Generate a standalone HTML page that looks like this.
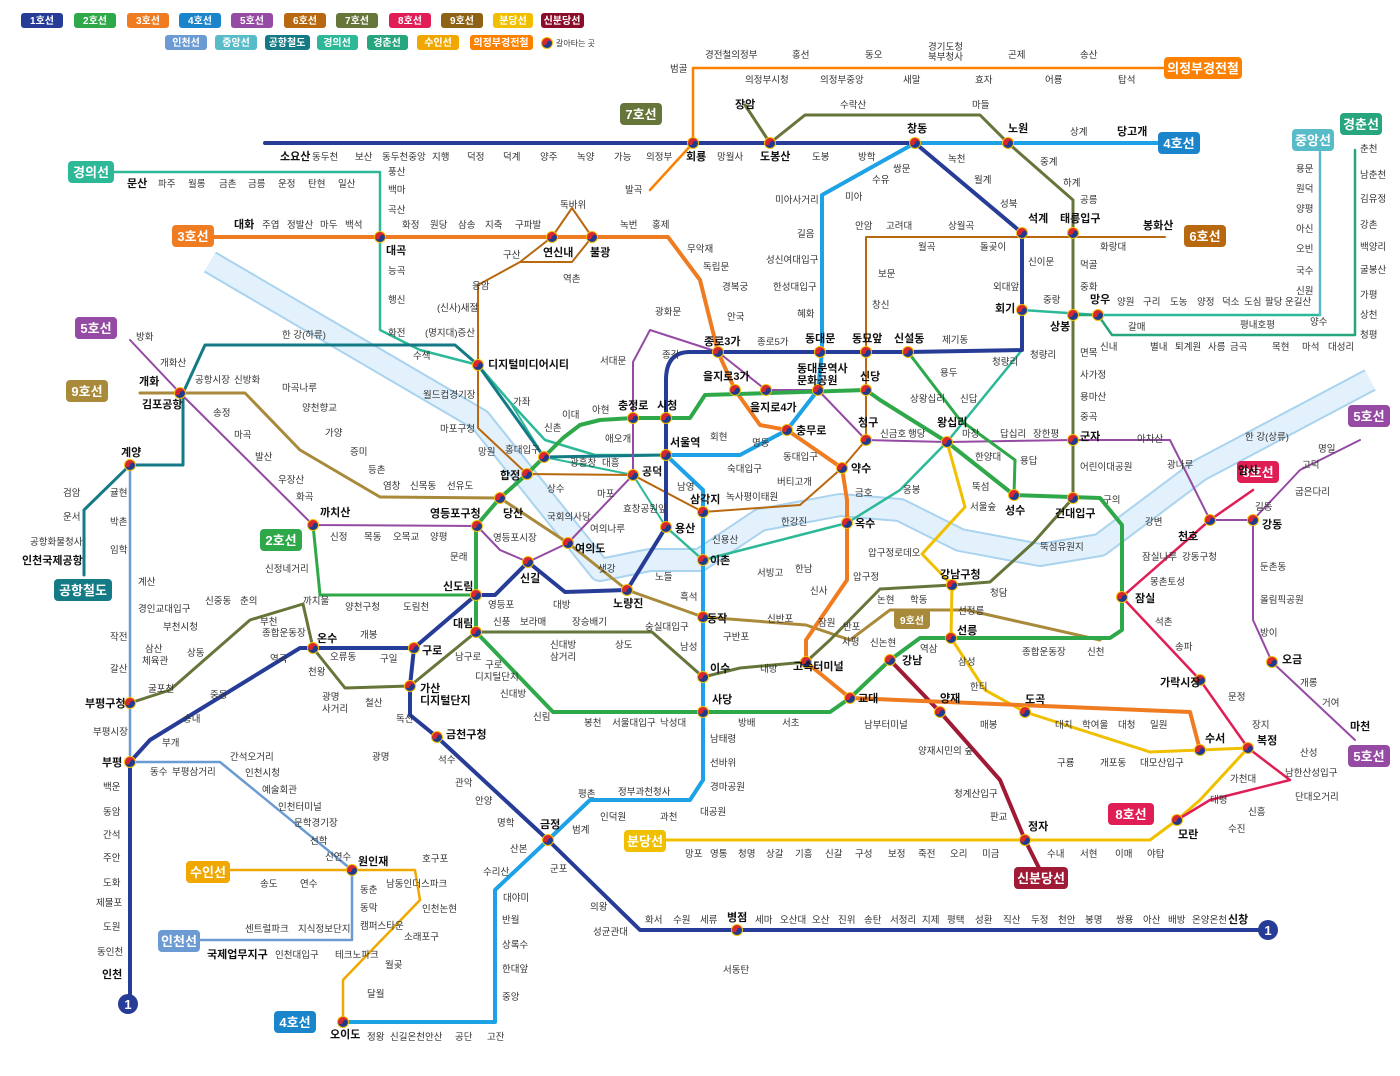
<!DOCTYPE html>
<html><head><meta charset="utf-8">
<style>
html,body{margin:0;padding:0;background:#fff;}
svg{display:block;font-family:"Liberation Sans","Noto Sans CJK KR",sans-serif;}
.s{font-size:9.5px;fill:#333;}
.b{font-size:11px;font-weight:bold;fill:#111;}
.lg{font-size:10px;font-weight:bold;fill:#fff;}
.bd{font-size:13px;font-weight:bold;fill:#fff;}
</style></head><body>
<svg width="1400" height="1076" viewBox="0 0 1400 1076" xmlns="http://www.w3.org/2000/svg">
<defs>
<g id="t"><circle r="6" fill="#f5c000"/><path d="M-5,0 A5,5 0 0 1 5,0 Z" fill="#d7282f"/><path d="M-5,0 A5,5 0 0 0 5,0 Z" fill="#1e3b8f"/><circle r="2.3" cx="-2.5" cy="0" fill="#d7282f"/><circle r="2.3" cx="2.5" cy="0" fill="#1e3b8f"/></g>
</defs>
<rect width="1400" height="1076" fill="#fff"/>

<!-- legend -->
<g>
<rect x="21" y="13" width="42" height="15" rx="3" fill="#263c96"/><text x="42" y="24" class="lg" text-anchor="middle">1호선</text>
<rect x="74" y="13" width="42" height="15" rx="3" fill="#2fa84a"/><text x="95" y="24" class="lg" text-anchor="middle">2호선</text>
<rect x="127" y="13" width="42" height="15" rx="3" fill="#f07c21"/><text x="148" y="24" class="lg" text-anchor="middle">3호선</text>
<rect x="179" y="13" width="42" height="15" rx="3" fill="#1b85cc"/><text x="200" y="24" class="lg" text-anchor="middle">4호선</text>
<rect x="231" y="13" width="42" height="15" rx="3" fill="#954aa3"/><text x="252" y="24" class="lg" text-anchor="middle">5호선</text>
<rect x="284" y="13" width="42" height="15" rx="3" fill="#b8680f"/><text x="305" y="24" class="lg" text-anchor="middle">6호선</text>
<rect x="336" y="13" width="42" height="15" rx="3" fill="#66753a"/><text x="357" y="24" class="lg" text-anchor="middle">7호선</text>
<rect x="389" y="13" width="42" height="15" rx="3" fill="#e01e55"/><text x="410" y="24" class="lg" text-anchor="middle">8호선</text>
<rect x="441" y="13" width="42" height="15" rx="3" fill="#8d6215"/><text x="462" y="24" class="lg" text-anchor="middle">9호선</text>
<rect x="493" y="13" width="40" height="15" rx="3" fill="#f0c000"/><text x="513" y="24" class="lg" text-anchor="middle">분당선</text>
<rect x="541" y="13" width="43" height="15" rx="3" fill="#8b0d2a"/><text x="562" y="24" class="lg" text-anchor="middle">신분당선</text>
<rect x="165" y="35" width="42" height="15" rx="3" fill="#6b9bd2"/><text x="186" y="46" class="lg" text-anchor="middle">인천선</text>
<rect x="215" y="35" width="42" height="15" rx="3" fill="#58bcc8"/><text x="236" y="46" class="lg" text-anchor="middle">중앙선</text>
<rect x="265" y="35" width="45" height="15" rx="3" fill="#137a86"/><text x="287" y="46" class="lg" text-anchor="middle">공항철도</text>
<rect x="317" y="35" width="41" height="15" rx="3" fill="#2db998"/><text x="337" y="46" class="lg" text-anchor="middle">경의선</text>
<rect x="367" y="35" width="41" height="15" rx="3" fill="#26a57e"/><text x="387" y="46" class="lg" text-anchor="middle">경춘선</text>
<rect x="417" y="35" width="42" height="15" rx="3" fill="#f0a800"/><text x="438" y="46" class="lg" text-anchor="middle">수인선</text>
<rect x="470" y="35" width="63" height="15" rx="3" fill="#fd8100"/><text x="501" y="46" class="lg" text-anchor="middle">의정부경전철</text>
<use href="#t" x="547" y="43"/><text x="556" y="46" style="font-size:8px;fill:#333">갈아타는 곳</text>
</g>

<!-- river -->
<g fill="none" stroke-linejoin="round">
<path d="M210,262 L480,420 L560,520 L600,570 L650,560 L700,560 L760,520 L840,505 L900,510 L960,540 L1040,555 L1100,545 L1200,470 L1370,380" stroke="#a9d3ee" stroke-width="24"/>
<path d="M210,262 L480,420 L560,520 L600,570 L650,560 L700,560 L760,520 L840,505 L900,510 L960,540 L1040,555 L1100,545 L1200,470 L1370,380" stroke="#e2f1fb" stroke-width="20"/>
</g>
<text x="282" y="338" class="s">한 강(하류)</text>
<text x="1245" y="440" class="s">한 강(상류)</text>

<g fill="none" stroke-linejoin="round" stroke-linecap="round">
<!-- 의정부경전철 -->
<path d="M693,68 L1165,68" stroke="#fd8100" stroke-width="2.5"/>
<path d="M693,68 L693,143 L650,190" stroke="#fd8100" stroke-width="2.5"/>
<!-- 경의선 -->
<path d="M90,172 L380,172 L380,330 L420,350 L478,365 L510,402 L545,440 L595,455 L666,455" stroke="#2db998" stroke-width="2.5"/>
<path d="M510,402 L544,457 L633,475 L666,527" stroke="#2db998" stroke-width="2"/>
<path d="M666,527 L703,560 L847,523 L900,490 L947,442 L1022,350 L1022,310 L1098,315 L1320,315" stroke="#2db998" stroke-width="2.5"/>
<path d="M1320,315 L1320,152" stroke="#58bcc8" stroke-width="2.5"/>
<!-- 경춘선 -->
<path d="M1073,315 L1098,315 L1112,335 L1355,335 L1355,150" stroke="#26a57e" stroke-width="2.5"/>
<!-- 공항철도 -->
<path d="M666,455 L544,457 L478,365 L455,345 L205,345 L183,393 L183,465 L130,465" stroke="#137a86" stroke-width="3"/>
<path d="M130,465 L84,510 L84,575" stroke="#137a86" stroke-width="3"/>
<!-- 인천선 -->
<path d="M130,465 L130,762 L220,762 L352,870 L352,940 L200,940" stroke="#6b9bd2" stroke-width="2.5"/>
<!-- 수인선 -->
<path d="M343,1022 L343,980 L420,900 L415,870 L230,870" stroke="#f0a800" stroke-width="2.5"/>
<!-- 9호선 -->
<path d="M140,393 L245,393 L300,450 L380,497 L500,498 L568,543 L627,590 L703,617 L806,625 L850,640 L890,610 L967,610 L1100,640" stroke="#a88a3a" stroke-width="3"/>
<!-- 분당선 -->
<path d="M947,442 L965,507 L922,554 L952,585 L951,638 L985,690 L1025,712 L1150,752 L1200,750 L1248,748 L1200,800 L1177,820 L1150,840 L650,840" stroke="#f0c000" stroke-width="3"/>
<!-- 신분당선 -->
<path d="M890,660 L940,712 L1000,780 L1025,840 L1040,870" stroke="#a01a35" stroke-width="4"/>
<!-- 7호선 -->
<path d="M745,105 L770,143 L805,115 L980,115 L1008,143 L1073,200 L1073,498 L1033,543 L990,582 L952,585 L880,589 L830,640 L806,662 L740,668 L703,677 L652,632 L476,632 L410,686 L345,688 L313,648 L303,604 L250,620 L170,690 L130,703" stroke="#66753a" stroke-width="3"/>
<!-- 6호선 -->
<path d="M478,285 L478,428 L527,474 L633,475 L703,512 L800,505 L842,468 L866,440 L866,237 L1165,237" stroke="#b8680f" stroke-width="2"/>
<path d="M478,285 L520,262 L552,237 L572,208 L592,237 L572,262 L520,262" stroke="#b8680f" stroke-width="2"/>
<!-- 5호선 -->
<path d="M130,340 L180,393 L313,525 L477,526 L500,550 L528,562 L568,543 L633,475 L633,362 L650,330 L718,352 L766,390 L818,390 L866,440 L947,442 L1073,440 L1170,440 L1210,520 L1253,520 L1300,470 L1360,440" stroke="#954aa3" stroke-width="2"/>
<path d="M1253,520 L1253,620 L1272,662 L1355,740" stroke="#954aa3" stroke-width="2"/>
<!-- 8호선 -->
<path d="M1253,490 L1210,520 L1122,597 L1200,680 L1248,748 L1290,780 L1210,800 L1177,820" stroke="#e01e55" stroke-width="2.5"/>
<!-- 4호선 -->
<path d="M1170,143 L915,143 L822,195 L822,352 L818,390 L787,430 L740,455 L666,455 L703,490 L703,780 L690,800 L590,800 L548,840 L495,890 L495,1022 L343,1022" stroke="#1ea2e6" stroke-width="4"/>
<!-- 3호선 -->
<path d="M190,237 L668,237 L700,280 L718,352 L735,390 L760,425 L787,430 L842,468 L847,500 L847,580 L806,640 L806,662 L850,698 L1190,712 L1200,750" stroke="#f07c21" stroke-width="4"/>
<!-- 2호선 -->
<path d="M666,418 L690,418 L705,395 L866,390 L880,400 L947,442 L1014,495 L1100,498 L1122,525 L1122,630 L1110,638 L920,638 L890,660 L850,698 L830,712 L553,712 L476,632 L476,526 L500,498 L527,474 L544,457 L563,438 L580,425 L600,420 L633,418 Z" stroke="#2fa84a" stroke-width="4"/>
<path d="M1014,495 L1015,460 L960,420 L908,352" stroke="#2fa84a" stroke-width="3"/>
<path d="M476,595 L320,595 L313,525" stroke="#2fa84a" stroke-width="3"/>
<!-- 1호선 -->
<path d="M265,143 L915,143 L1022,233 L1022,350 L908,352 L690,352 Q666,352 666,380 L666,527 L627,590 L565,592 L528,562 L495,595 L476,595 L414,648 L300,648 L150,740 L130,762 L130,1004" stroke="#263c96" stroke-width="4"/>
<path d="M414,648 L410,686 L410,715 L437,737 L548,840 L640,930 L1268,930" stroke="#263c96" stroke-width="4"/>
</g>

<!-- end circles -->
<g>
<circle cx="128" cy="1004" r="10" fill="#263c96"/><text x="128" y="1009" text-anchor="middle" class="bd">1</text>
<circle cx="1268" cy="930" r="10" fill="#263c96"/><text x="1268" y="935" text-anchor="middle" class="bd">1</text>
</g>

<!-- line badges -->
<g>
<rect x="620" y="103" width="42" height="22" rx="4" fill="#66753a"/><text x="641" y="119" class="bd" text-anchor="middle">7호선</text>
<rect x="1158" y="132" width="42" height="22" rx="4" fill="#1b85cc"/><text x="1179" y="148" class="bd" text-anchor="middle">4호선</text>
<rect x="1164" y="57" width="78" height="22" rx="4" fill="#fd8100"/><text x="1203" y="73" class="bd" text-anchor="middle">의정부경전철</text>
<rect x="68" y="161" width="46" height="22" rx="4" fill="#2db998"/><text x="91" y="177" class="bd" text-anchor="middle">경의선</text>
<rect x="1292" y="129" width="42" height="22" rx="4" fill="#58bcc8"/><text x="1313" y="145" class="bd" text-anchor="middle">중앙선</text>
<rect x="1340" y="113" width="42" height="22" rx="4" fill="#26a57e"/><text x="1361" y="129" class="bd" text-anchor="middle">경춘선</text>
<rect x="172" y="225" width="42" height="22" rx="4" fill="#f07c21"/><text x="193" y="241" class="bd" text-anchor="middle">3호선</text>
<rect x="1184" y="225" width="42" height="22" rx="4" fill="#b8680f"/><text x="1205" y="241" class="bd" text-anchor="middle">6호선</text>
<rect x="75" y="317" width="42" height="22" rx="4" fill="#954aa3"/><text x="96" y="333" class="bd" text-anchor="middle">5호선</text>
<rect x="66" y="380" width="42" height="22" rx="4" fill="#a88a3a"/><text x="87" y="396" class="bd" text-anchor="middle">9호선</text>
<rect x="1348" y="405" width="42" height="22" rx="4" fill="#954aa3"/><text x="1369" y="421" class="bd" text-anchor="middle">5호선</text>
<rect x="1237" y="461" width="42" height="22" rx="4" fill="#e01e55"/><text x="1258" y="477" class="bd" text-anchor="middle">8호선</text>
<rect x="260" y="529" width="42" height="22" rx="4" fill="#2fa84a"/><text x="281" y="545" class="bd" text-anchor="middle">2호선</text>
<rect x="54" y="579" width="58" height="22" rx="4" fill="#137a86"/><text x="83" y="595" class="bd" text-anchor="middle">공항철도</text>
<rect x="894" y="609" width="36" height="20" rx="4" fill="#a88a3a"/><text x="912" y="624" class="lg" text-anchor="middle">9호선</text>
<rect x="1348" y="745" width="42" height="22" rx="4" fill="#954aa3"/><text x="1369" y="761" class="bd" text-anchor="middle">5호선</text>
<rect x="1108" y="803" width="46" height="22" rx="4" fill="#e01e55"/><text x="1131" y="819" class="bd" text-anchor="middle">8호선</text>
<rect x="624" y="830" width="42" height="22" rx="4" fill="#f0c000"/><text x="645" y="846" class="bd" text-anchor="middle">분당선</text>
<rect x="186" y="861" width="44" height="22" rx="4" fill="#f0a800"/><text x="208" y="877" class="bd" text-anchor="middle">수인선</text>
<rect x="1014" y="867" width="54" height="22" rx="4" fill="#a01a35"/><text x="1041" y="883" class="bd" text-anchor="middle">신분당선</text>
<rect x="158" y="930" width="42" height="22" rx="4" fill="#6b9bd2"/><text x="179" y="946" class="bd" text-anchor="middle">인천선</text>
<rect x="274" y="1011" width="42" height="22" rx="4" fill="#1b85cc"/><text x="295" y="1027" class="bd" text-anchor="middle">4호선</text>
</g>

<!-- transfer markers -->
<g>
<use href="#t" x="693" y="143"/><use href="#t" x="770" y="143"/><use href="#t" x="915" y="143"/><use href="#t" x="1008" y="143"/>
<use href="#t" x="380" y="237"/><use href="#t" x="552" y="237"/><use href="#t" x="592" y="237"/><use href="#t" x="1022" y="233"/><use href="#t" x="1073" y="233"/>
<use href="#t" x="1022" y="310"/><use href="#t" x="1073" y="315"/><use href="#t" x="1098" y="315"/>
<use href="#t" x="478" y="365"/><use href="#t" x="718" y="352"/><use href="#t" x="820" y="352"/><use href="#t" x="866" y="352"/><use href="#t" x="908" y="352"/>
<use href="#t" x="180" y="393"/><use href="#t" x="633" y="418"/><use href="#t" x="666" y="418"/><use href="#t" x="735" y="390"/><use href="#t" x="766" y="390"/><use href="#t" x="818" y="390"/><use href="#t" x="866" y="390"/>
<use href="#t" x="787" y="430"/><use href="#t" x="866" y="440"/><use href="#t" x="947" y="442"/><use href="#t" x="1073" y="440"/>
<use href="#t" x="666" y="455"/><use href="#t" x="633" y="475"/><use href="#t" x="527" y="474"/><use href="#t" x="544" y="457"/><use href="#t" x="842" y="468"/><use href="#t" x="130" y="465"/>
<use href="#t" x="1014" y="495"/><use href="#t" x="1073" y="498"/><use href="#t" x="1253" y="520"/><use href="#t" x="1210" y="520"/>
<use href="#t" x="500" y="498"/><use href="#t" x="703" y="512"/><use href="#t" x="313" y="525"/><use href="#t" x="477" y="526"/><use href="#t" x="666" y="527"/><use href="#t" x="847" y="523"/>
<use href="#t" x="568" y="543"/><use href="#t" x="528" y="562"/><use href="#t" x="703" y="560"/><use href="#t" x="952" y="585"/>
<use href="#t" x="476" y="595"/><use href="#t" x="627" y="590"/><use href="#t" x="1122" y="597"/><use href="#t" x="476" y="632"/><use href="#t" x="703" y="617"/>
<use href="#t" x="313" y="648"/><use href="#t" x="414" y="648"/><use href="#t" x="951" y="638"/><use href="#t" x="890" y="660"/><use href="#t" x="806" y="662"/><use href="#t" x="703" y="677"/><use href="#t" x="1272" y="662"/>
<use href="#t" x="1200" y="680"/><use href="#t" x="410" y="686"/><use href="#t" x="130" y="703"/><use href="#t" x="850" y="698"/><use href="#t" x="703" y="712"/><use href="#t" x="940" y="712"/><use href="#t" x="1025" y="712"/>
<use href="#t" x="437" y="737"/><use href="#t" x="1200" y="750"/><use href="#t" x="1248" y="748"/><use href="#t" x="130" y="762"/>
<use href="#t" x="548" y="840"/><use href="#t" x="1177" y="820"/><use href="#t" x="1025" y="840"/><use href="#t" x="352" y="870"/><use href="#t" x="737" y="930"/><use href="#t" x="343" y="1022"/>
</g>

<!-- station labels -->
<g class="s">
<text x="670" y="72">범골</text><text x="705" y="58">경전철의정부</text><text x="745" y="83">의정부시청</text><text x="792" y="58">홍선</text><text x="820" y="83">의정부중앙</text><text x="865" y="58">동오</text><text x="928" y="50">경기도청</text><text x="928" y="60">북부청사</text><text x="903" y="83">새말</text><text x="975" y="83">효자</text><text x="1008" y="58">곤제</text><text x="1045" y="83">어룡</text><text x="1080" y="58">송산</text><text x="1118" y="83">탑석</text>
<text x="312" y="160">동두천</text><text x="355" y="160">보산</text><text x="382" y="160">동두천중앙</text><text x="432" y="160">지행</text><text x="467" y="160">덕정</text><text x="503" y="160">덕계</text><text x="540" y="160">양주</text><text x="577" y="160">녹양</text><text x="614" y="160">가능</text><text x="646" y="160">의정부</text><text x="717" y="160">망월사</text><text x="812" y="160">도봉</text><text x="858" y="160">방학</text><text x="625" y="193">발곡</text>
<text x="840" y="108">수락산</text><text x="972" y="108">마들</text><text x="1070" y="135">상계</text><text x="893" y="172">쌍문</text><text x="872" y="183">수유</text><text x="845" y="200">미아</text><text x="775" y="203">미아사거리</text><text x="797" y="237">길음</text><text x="766" y="263">성신여대입구</text><text x="773" y="290">한성대입구</text><text x="797" y="317">혜화</text>
<text x="948" y="162">녹천</text><text x="974" y="183">월계</text><text x="1000" y="207">성북</text><text x="1040" y="165">중계</text><text x="1063" y="186">하계</text><text x="1080" y="203">공릉</text><text x="1080" y="268">먹골</text><text x="1080" y="290">중화</text>
<text x="158" y="187">파주</text><text x="188" y="187">월롱</text><text x="219" y="187">금촌</text><text x="248" y="187">금릉</text><text x="278" y="187">운정</text><text x="308" y="187">탄현</text><text x="338" y="187">일산</text><text x="388" y="175">풍산</text><text x="388" y="193">백마</text><text x="388" y="213">곡산</text><text x="388" y="274">능곡</text><text x="388" y="303">행신</text><text x="388" y="336">화전</text><text x="413" y="359">수색</text>
<text x="262" y="228">주엽</text><text x="287" y="228">정발산</text><text x="320" y="228">마두</text><text x="345" y="228">백석</text><text x="402" y="228">화정</text><text x="430" y="228">원당</text><text x="458" y="228">삼송</text><text x="485" y="228">지축</text><text x="515" y="228">구파발</text><text x="560" y="208">독바위</text><text x="620" y="228">녹번</text><text x="652" y="228">홍제</text><text x="687" y="252">무악재</text><text x="703" y="270">독립문</text><text x="722" y="290">경복궁</text><text x="727" y="320">안국</text><text x="757" y="345">종로5가</text>
<text x="503" y="258">구산</text><text x="472" y="289">응암</text><text x="563" y="282">역촌</text><text x="437" y="311">(신사)새절</text><text x="425" y="336">(명지대)증산</text>
<text x="878" y="277">보문</text><text x="872" y="308">창신</text><text x="855" y="229">안암</text><text x="886" y="229">고려대</text><text x="948" y="229">상월곡</text><text x="918" y="250">월곡</text><text x="980" y="250">돌곶이</text><text x="1028" y="265">신이문</text><text x="993" y="290">외대앞</text><text x="1043" y="303">중랑</text><text x="1100" y="250">화랑대</text>
<text x="1117" y="305">양원</text><text x="1143" y="305">구리</text><text x="1170" y="305">도농</text><text x="1197" y="305">양정</text><text x="1222" y="305">덕소</text><text x="1244" y="305">도심</text><text x="1265" y="305">팔당</text><text x="1285" y="305">운길산</text>
<text x="1296" y="172">용문</text><text x="1296" y="192">원덕</text><text x="1296" y="212">양평</text><text x="1296" y="232">아신</text><text x="1296" y="252">오빈</text><text x="1296" y="274">국수</text><text x="1296" y="294">신원</text><text x="1310" y="325">양수</text>
<text x="1360" y="152">춘천</text><text x="1360" y="178">남춘천</text><text x="1360" y="202">김유정</text><text x="1360" y="228">강촌</text><text x="1360" y="250">백양리</text><text x="1360" y="273">굴봉산</text><text x="1360" y="298">가평</text><text x="1360" y="318">상천</text><text x="1360" y="338">청평</text>
<text x="1128" y="330">갈매</text><text x="1100" y="350">신내</text><text x="1150" y="350">별내</text><text x="1175" y="350">퇴계원</text><text x="1208" y="350">사릉</text><text x="1230" y="350">금곡</text><text x="1240" y="328">평내호평</text><text x="1272" y="350">목현</text><text x="1302" y="350">마석</text><text x="1328" y="350">대성리</text>
<text x="1080" y="356">면목</text><text x="1080" y="378">사가정</text><text x="1080" y="400">용마산</text><text x="1080" y="420">중곡</text><text x="1080" y="470">어린이대공원</text><text x="1137" y="442">아차산</text><text x="1167" y="468">광나루</text>
<text x="942" y="343">제기동</text><text x="992" y="365">청량리</text><text x="1030" y="358">청량리</text><text x="940" y="376">용두</text><text x="910" y="402">상왕십리</text><text x="960" y="402">신답</text><text x="880" y="437">신금호</text><text x="908" y="437">행당</text><text x="962" y="437">마장</text><text x="1000" y="437">답십리</text><text x="1033" y="437">장한평</text><text x="975" y="460">한양대</text><text x="972" y="490">뚝섬</text><text x="1020" y="464">용답</text><text x="903" y="493">응봉</text><text x="970" y="510">서울숲</text><text x="1040" y="550">뚝섬유원지</text>
<text x="136" y="340">방화</text><text x="160" y="366">개화산</text><text x="195" y="383">공항시장</text><text x="234" y="383">신방화</text><text x="282" y="391">마곡나루</text><text x="302" y="411">양천향교</text><text x="325" y="436">가양</text><text x="350" y="455">증미</text><text x="368" y="473">등촌</text><text x="383" y="489">염창</text><text x="410" y="489">신목동</text><text x="447" y="489">선유도</text>
<text x="213" y="416">송정</text><text x="234" y="438">마곡</text><text x="255" y="460">발산</text><text x="278" y="483">우장산</text><text x="296" y="500">화곡</text><text x="330" y="540">신정</text><text x="364" y="540">목동</text><text x="393" y="540">오목교</text><text x="430" y="540">양평</text>
<text x="423" y="398">월드컵경기장</text><text x="440" y="432">마포구청</text><text x="478" y="455">망원</text><text x="513" y="405">가좌</text><text x="544" y="431">신촌</text><text x="562" y="418">이대</text><text x="592" y="413">아현</text><text x="600" y="364">서대문</text><text x="655" y="315">광화문</text><text x="662" y="358">종각</text>
<text x="570" y="466">광흥창</text><text x="602" y="466">대흥</text><text x="547" y="492">상수</text><text x="597" y="497">마포</text><text x="590" y="532">여의나루</text><text x="547" y="520">국회의사당</text><text x="493" y="541">영등포시장</text><text x="598" y="572">샛강</text><text x="488" y="608">영등포</text><text x="450" y="560">문래</text><text x="553" y="608">대방</text><text x="505" y="453">홍대입구</text><text x="605" y="442">애오개</text>
<text x="623" y="512">효창공원앞</text><text x="677" y="490">남영</text><text x="727" y="472">숙대입구</text><text x="726" y="500">녹사평</text><text x="752" y="500">이태원</text><text x="781" y="525">한강진</text><text x="777" y="485">버티고개</text><text x="783" y="460">동대입구</text><text x="752" y="446">명동</text><text x="710" y="440">회현</text><text x="855" y="496">금호</text><text x="712" y="543">신용산</text><text x="795" y="572">한남</text><text x="757" y="576">서빙고</text>
<text x="868" y="556">압구정로데오</text><text x="853" y="580">압구정</text><text x="810" y="594">신사</text><text x="818" y="626">잠원</text><text x="877" y="603">논현</text><text x="910" y="603">학동</text><text x="990" y="596">청담</text><text x="958" y="614">선정릉</text><text x="843" y="630">반포</text><text x="842" y="645">사평</text><text x="870" y="646">신논현</text><text x="920" y="652">역삼</text><text x="958" y="665">삼성</text><text x="1022" y="655">종합운동장</text><text x="1087" y="655">신천</text>
<text x="655" y="580">노들</text><text x="680" y="600">흑석</text><text x="723" y="640">구반포</text><text x="767" y="622">신반포</text><text x="760" y="672">내방</text><text x="680" y="650">남성</text><text x="645" y="630">숭실대입구</text><text x="615" y="648">상도</text><text x="572" y="625">장승배기</text><text x="520" y="625">보라매</text><text x="493" y="625">신풍</text><text x="550" y="648">신대방</text><text x="550" y="660">삼거리</text>
<text x="485" y="668">구로</text><text x="475" y="680">디지털단지</text><text x="500" y="697">신대방</text><text x="533" y="720">신림</text><text x="584" y="726">봉천</text><text x="612" y="726">서울대입구</text><text x="660" y="726">낙성대</text><text x="738" y="726">방배</text><text x="782" y="726">서초</text>
<text x="710" y="742">남태령</text><text x="710" y="766">선바위</text><text x="710" y="790">경마공원</text><text x="700" y="815">대공원</text><text x="660" y="820">과천</text><text x="618" y="795">정부과천청사</text><text x="600" y="820">인덕원</text><text x="578" y="797">평촌</text><text x="572" y="833">범계</text><text x="510" y="852">산본</text><text x="483" y="875">수리산</text><text x="503" y="901">대야미</text><text x="502" y="923">반월</text><text x="502" y="948">상록수</text><text x="502" y="972">한대앞</text><text x="502" y="1000">중앙</text><text x="487" y="1040">고잔</text><text x="455" y="1040">공단</text><text x="425" y="1040">안산</text><text x="390" y="1040">신길온천</text><text x="367" y="1040">정왕</text>
<text x="438" y="763">석수</text><text x="455" y="786">관악</text><text x="475" y="804">안양</text><text x="497" y="826">명학</text><text x="550" y="872">군포</text><text x="590" y="910">의왕</text><text x="593" y="935">성균관대</text><text x="645" y="923">화서</text><text x="673" y="923">수원</text><text x="700" y="923">세류</text><text x="755" y="923">세마</text><text x="780" y="923">오산대</text><text x="812" y="923">오산</text><text x="838" y="923">진위</text><text x="864" y="923">송탄</text><text x="890" y="923">서정리</text><text x="922" y="923">지제</text><text x="947" y="923">평택</text><text x="975" y="923">성환</text><text x="1003" y="923">직산</text><text x="1031" y="923">두정</text><text x="1058" y="923">천안</text><text x="1085" y="923">봉명</text><text x="1116" y="923">쌍용</text><text x="1143" y="923">아산</text><text x="1168" y="923">배방</text><text x="1192" y="923">온양온천</text><text x="723" y="973">서동탄</text>
<text x="685" y="857">망포</text><text x="710" y="857">영통</text><text x="738" y="857">청명</text><text x="766" y="857">상갈</text><text x="795" y="857">기흥</text><text x="825" y="857">신갈</text><text x="855" y="857">구성</text><text x="888" y="857">보정</text><text x="918" y="857">죽전</text><text x="950" y="857">오리</text><text x="982" y="857">미금</text><text x="1047" y="857">수내</text><text x="1080" y="857">서현</text><text x="1115" y="857">이매</text><text x="1147" y="857">야탑</text>
<text x="954" y="797">청계산입구</text><text x="990" y="820">판교</text><text x="918" y="754">양재시민의 숲</text><text x="864" y="728">남부터미널</text><text x="970" y="690">한티</text><text x="980" y="728">매봉</text><text x="1055" y="728">대치</text><text x="1082" y="728">학여울</text><text x="1118" y="728">대청</text><text x="1150" y="728">일원</text><text x="1057" y="766">구룡</text><text x="1100" y="766">개포동</text><text x="1140" y="766">대모산입구</text>
<text x="1142" y="560">잠실나루</text><text x="1150" y="585">몽촌토성</text><text x="1182" y="560">강동구청</text><text x="1155" y="625">석촌</text><text x="1175" y="650">송파</text><text x="1228" y="700">문정</text><text x="1252" y="728">장지</text><text x="1300" y="756">산성</text><text x="1285" y="776">남한산성입구</text><text x="1295" y="800">단대오거리</text><text x="1248" y="815">신흥</text><text x="1228" y="832">수진</text><text x="1210" y="803">태평</text><text x="1230" y="782">가천대</text>
<text x="1260" y="570">둔촌동</text><text x="1260" y="603">올림픽공원</text><text x="1260" y="636">방이</text><text x="1300" y="686">개롱</text><text x="1322" y="706">거여</text><text x="1255" y="510">길동</text><text x="1302" y="468">고덕</text><text x="1318" y="452">명일</text><text x="1295" y="495">굽은다리</text><text x="1145" y="525">강변</text><text x="1103" y="503">구의</text>
<text x="63" y="496">검암</text><text x="63" y="520">운서</text><text x="30" y="545">공항화물청사</text><text x="110" y="496">귤현</text><text x="110" y="525">박촌</text><text x="110" y="553">임학</text><text x="138" y="585">계산</text><text x="138" y="612">경인교대입구</text><text x="110" y="640">작전</text><text x="110" y="672">갈산</text><text x="93" y="735">부평시장</text>
<text x="205" y="604">신중동</text><text x="240" y="604">춘의</text><text x="163" y="630">부천시청</text><text x="187" y="656">상동</text><text x="145" y="652">삼산</text><text x="142" y="664">체육관</text><text x="148" y="692">굴포천</text><text x="210" y="698">중동</text><text x="183" y="722">송내</text><text x="162" y="746">부개</text><text x="270" y="662">역곡</text><text x="303" y="604">까치울</text><text x="260" y="625">부천</text><text x="262" y="636">종합운동장</text><text x="360" y="638">개봉</text><text x="330" y="660">오류동</text><text x="308" y="675">천왕</text><text x="380" y="662">구일</text><text x="322" y="700">광명</text><text x="322" y="712">사거리</text><text x="365" y="706">철산</text><text x="396" y="722">독산</text><text x="455" y="660">남구로</text><text x="372" y="760">광명</text><text x="345" y="610">양천구청</text><text x="403" y="610">도림천</text><text x="265" y="572">신정네거리</text>
<text x="150" y="775">동수</text><text x="172" y="775">부평삼거리</text><text x="230" y="760">간석오거리</text><text x="245" y="776">인천시청</text><text x="262" y="793">예술회관</text><text x="278" y="810">인천터미널</text><text x="294" y="826">문학경기장</text><text x="310" y="844">선학</text><text x="325" y="860">신연수</text><text x="360" y="893">동춘</text><text x="360" y="911">동막</text><text x="360" y="929">캠퍼스타운</text><text x="335" y="958">테크노파크</text><text x="298" y="932">지식정보단지</text><text x="275" y="958">인천대입구</text><text x="245" y="932">센트럴파크</text>
<text x="260" y="887">송도</text><text x="300" y="887">연수</text><text x="386" y="887">남동인더스파크</text><text x="422" y="862">호구포</text><text x="422" y="912">인천논현</text><text x="404" y="940">소래포구</text><text x="385" y="968">월곶</text><text x="367" y="997">달월</text>
<text x="103" y="790">백운</text><text x="103" y="815">동암</text><text x="103" y="838">간석</text><text x="103" y="861">주안</text><text x="103" y="886">도화</text><text x="96" y="906">제물포</text><text x="103" y="930">도원</text><text x="97" y="955">동인천</text>
</g>
<g class="b">
<text x="280" y="160">소요산</text><text x="686" y="160">회룡</text><text x="760" y="160">도봉산</text><text x="907" y="132">창동</text><text x="1008" y="132">노원</text><text x="1117" y="135">당고개</text><text x="735" y="108">장암</text>
<text x="127" y="187">문산</text><text x="234" y="228">대화</text><text x="386" y="254">대곡</text><text x="543" y="256">연신내</text><text x="590" y="256">불광</text><text x="1028" y="222">석계</text><text x="1060" y="222">태릉입구</text><text x="1143" y="229">봉화산</text>
<text x="995" y="312">회기</text><text x="1050" y="330">상봉</text><text x="1090" y="303">망우</text>
<text x="488" y="368">디지털미디어시티</text><text x="704" y="345">종로3가</text><text x="805" y="342">동대문</text><text x="852" y="342">동묘앞</text><text x="894" y="342">신설동</text>
<text x="139" y="385">개화</text><text x="142" y="408">김포공항</text><text x="618" y="409">충정로</text><text x="657" y="409">시청</text><text x="703" y="380">을지로3가</text><text x="750" y="411">을지로4가</text><text x="797" y="372">동대문역사</text><text x="797" y="384">문화공원</text><text x="860" y="380">신당</text>
<text x="796" y="434">충무로</text><text x="858" y="426">청구</text><text x="937" y="426">왕십리</text><text x="1080" y="440">군자</text><text x="670" y="446">서울역</text><text x="642" y="475">공덕</text><text x="500" y="479">합정</text><text x="851" y="472">약수</text><text x="121" y="456">계양</text>
<text x="1005" y="514">성수</text><text x="1055" y="517">건대입구</text><text x="1238" y="474">암사</text><text x="1262" y="528">강동</text><text x="1178" y="540">천호</text>
<text x="503" y="517">당산</text><text x="690" y="503">삼각지</text><text x="320" y="516">까치산</text><text x="430" y="517">영등포구청</text><text x="675" y="532">용산</text><text x="855" y="527">옥수</text>
<text x="575" y="552">여의도</text><text x="520" y="582">신길</text><text x="710" y="564">이촌</text><text x="940" y="578">강남구청</text>
<text x="443" y="590">신도림</text><text x="613" y="607">노량진</text><text x="1135" y="602">잠실</text><text x="453" y="627">대림</text><text x="707" y="622">동작</text><text x="22" y="564">인천국제공항</text>
<text x="317" y="642">온수</text><text x="422" y="654">구로</text><text x="957" y="634">선릉</text><text x="902" y="664">강남</text><text x="793" y="670">고속터미널</text><text x="710" y="672">이수</text><text x="1282" y="663">오금</text>
<text x="1160" y="686">가락시장</text><text x="420" y="692">가산</text><text x="420" y="704">디지털단지</text><text x="85" y="707">부평구청</text><text x="858" y="702">교대</text><text x="712" y="703">사당</text><text x="940" y="702">양재</text><text x="1025" y="703">도곡</text>
<text x="446" y="738">금천구청</text><text x="1205" y="742">수서</text><text x="1257" y="744">복정</text><text x="1350" y="730">마천</text><text x="102" y="766">부평</text>
<text x="540" y="828">금정</text><text x="1178" y="838">모란</text><text x="1028" y="830">정자</text><text x="358" y="865">원인재</text><text x="727" y="921">병점</text><text x="1228" y="923">신창</text>
<text x="207" y="958">국제업무지구</text><text x="102" y="978">인천</text><text x="330" y="1038">오이도</text>
</g>
</svg>
</body></html>
